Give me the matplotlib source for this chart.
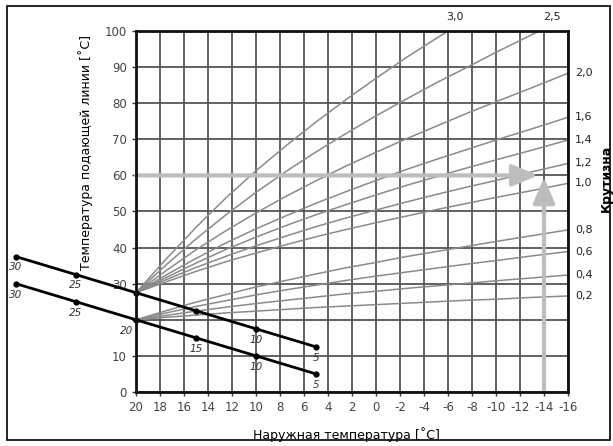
import numpy as np
import matplotlib
matplotlib.use("Agg")
import matplotlib.pyplot as plt
from matplotlib.patches import Rectangle

plt.rcParams["axes.unicode_minus"] = False

# outside temperature where the curve values were read
T_OUT = [20, 17.5, 15, 12.5, 10, 7.5, 5, 2.5, 0, -2.5, -5, -7.5, -10, -13, -16]

# heating curves, keyed by slope label
CURVES_LOW = {
    "0,2": [20, 20.7, 21.3, 21.9, 22.4, 22.9, 23.4, 23.8, 24.2, 24.6, 25.0, 25.4, 25.7, 26.2, 26.6],
    "0,4": [20, 21.2, 22.4, 23.5, 24.5, 25.4, 26.3, 27.2, 27.9, 28.7, 29.4, 30.1, 30.8, 31.6, 32.4],
    "0,6": [20, 21.9, 23.7, 25.3, 26.9, 28.3, 29.6, 30.9, 32.1, 33.2, 34.3, 35.4, 36.4, 37.7, 38.9],
    "0,8": [20, 22.5, 24.9, 27.0, 29.1, 30.9, 32.7, 34.4, 35.9, 37.5, 38.9, 40.3, 41.7, 43.3, 44.9],
}
CURVES_HIGH = {
    "1,0": [27.5, 30.5, 33.4, 36.1, 38.5, 40.8, 43.0, 45.0, 46.9, 48.7, 50.5, 52.2, 53.9, 55.8, 57.8],
    "1,2": [27.5, 31.1, 34.5, 37.6, 40.5, 43.2, 45.8, 48.2, 50.4, 52.6, 54.7, 56.7, 58.6, 61.0, 63.3],
    "1,4": [27.5, 31.7, 35.7, 39.5, 42.9, 46.1, 49.1, 51.9, 54.6, 57.2, 59.6, 62.0, 64.3, 67.0, 69.8],
    "1,6": [27.5, 32.4, 37.0, 41.3, 45.2, 48.8, 52.3, 55.5, 58.6, 61.6, 64.4, 67.1, 69.8, 72.9, 76.1],
    "2,0": [27.5, 33.6, 39.4, 44.7, 49.6, 54.2, 58.5, 62.6, 66.4, 70.1, 73.6, 77.1, 80.4, 84.3, 88.3],
    "2,5": [27.5, 35.2, 42.4, 49.1, 55.3, 61.1, 66.5, 71.6, 76.5, 81.1, 85.6, 89.8, 94.1, 99.0, 104.0],
    "3,0": [27.5, 36.8, 45.6, 53.8, 61.3, 68.2, 74.8, 81.0, 86.9, 92.6, 97.9, 103.1, 108.2, 114.3, 120.3],
}
TOP_LABELS = {"3,0": -6.6, "2,5": -14.7}

# room temperature scales on the left
ROOM_X = [30, 25, 20, 15, 10, 5]
ROOM_UPPER = [37.5, 32.5, 27.5, 22.5, 17.5, 12.5]
ROOM_LOWER = [30, 25, 20, 15, 10, 5]
UPPER_LABELS = ["30", "25", "", "", "10", "5"]
LOWER_LABELS = ["30", "25", "20", "15", "10", "5"]

X_TICKS = list(range(20, -17, -2))
Y_TICKS = list(range(0, 101, 10))
Y_TICK_LABELS = ["0", "10", "", "30", "40", "50", "60", "70", "80", "90", "100"]
EXAMPLE_FLOW = 60
EXAMPLE_OUT = -14

GRID = "#555555"
CURVE = "#8a8a8a"
ARROW = "#bdbdbd"
LABEL = "#444444"

fig = plt.figure(figsize=(6.13, 4.46), dpi=100)
ax = fig.add_axes([0.2219, 0.1211, 0.7047, 0.8094])
ax.set_xlim(20, -16)
ax.set_ylim(0, 100)

for x in X_TICKS:
    ax.axvline(x, color=GRID, lw=1.3, zorder=1)
for y in Y_TICKS:
    ax.axhline(y, color=GRID, lw=1.3, zorder=1)

for name, vals in {**CURVES_LOW, **CURVES_HIGH}.items():
    ax.plot(T_OUT, vals, color=CURVE, lw=1.1, zorder=2)
    if name in TOP_LABELS:
        ax.text(TOP_LABELS[name], 102.5, name, ha="center", va="bottom",
                fontsize=8, color="#222222", clip_on=False)
    else:
        ax.text(-16.6, vals[-1], name, ha="left", va="center",
                fontsize=8, color="#222222", clip_on=False)

# example arrows
arrow_style = dict(arrowstyle="-|>,head_length=1.3,head_width=0.55", color=ARROW,
                   lw=3, mutation_scale=12, shrinkA=0, shrinkB=0)
ax.annotate("", xy=(-13.5, EXAMPLE_FLOW), xytext=(20, EXAMPLE_FLOW),
            arrowprops=arrow_style, zorder=3)
ax.annotate("", xy=(EXAMPLE_OUT, 59.5), xytext=(EXAMPLE_OUT, 0),
            arrowprops=arrow_style, zorder=3)

# room temperature lines
for ys, labels in ((ROOM_UPPER, UPPER_LABELS), (ROOM_LOWER, LOWER_LABELS)):
    ax.plot(ROOM_X, ys, color="black", lw=2, marker="o", ms=3.5,
            clip_on=False, zorder=5)
    for x, y, lab in zip(ROOM_X, ys, labels):
        dx = 0.8 if lab == "20" else 0
        ax.text(x + dx, y - 3, lab, ha="center", va="center", fontsize=7.5,
                style="italic", color="#333333", clip_on=False, zorder=5)

ax.set_xticks(X_TICKS)
ax.set_yticks(Y_TICKS, Y_TICK_LABELS)
ax.tick_params(colors="#333333", labelcolor=LABEL, labelsize=8.5, length=3, width=1)
for s in ax.spines.values():
    s.set_linewidth(2)
    s.set_color("#111111")
    s.set_zorder(6)

fig.text(0.1387, 0.659, "Температура подающей линии [˚C]", rotation=90,
         ha="center", va="center", fontsize=9)
fig.text(0.565, 0.025, "Наружная температура [˚C]", ha="center", va="center",
         fontsize=9)
fig.text(0.989, 0.60, "Крутизна", rotation=90, ha="center", va="center",
         fontsize=9, fontweight="bold")

fig.patches.append(Rectangle((7 / 613, 6 / 446), 603 / 613, 434 / 446,
                             transform=fig.transFigure, fill=False,
                             edgecolor="black", lw=1.2))

fig.savefig("out.png", dpi=100)
